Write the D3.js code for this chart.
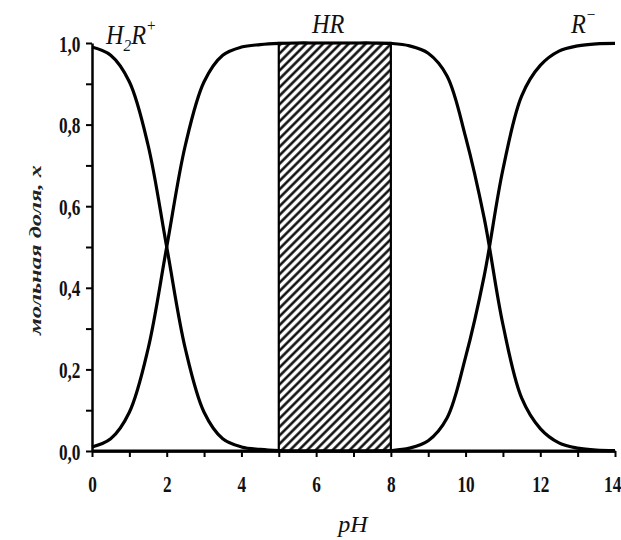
<!DOCTYPE html>
<html><head><meta charset="utf-8">
<script src="https://cdn.jsdelivr.net/npm/d3@7"></script>
<style>body{margin:0;background:#fff}</style></head>
<body>
<svg id="c" width="621" height="540"></svg>
<script>
// ---- data ----
const pH   = [0,0.5,1,1.5,2,2.5,3,3.5,4,4.5,5,5.5,6,6.5,7,7.5,8,8.5,9,9.5,10,10.5,11,11.5,12,12.5,13,13.5,14];
const h2r  = [0.99,0.97,0.905,0.75,0.50,0.25,0.095,0.03,0.01,0.004,0.001,0,0,0,0,0,0,0,0,0,0,0,0,0,0,0,0,0,0];
const hr   = [0.01,0.03,0.095,0.25,0.50,0.75,0.905,0.97,0.99,0.996,0.999,1,1,1,1,1,0.999,0.993,0.975,0.92,0.77,0.57,0.31,0.13,0.055,0.02,0.007,0.002,0.001];
const rm   = [0,0,0,0,0,0,0,0,0,0,0,0,0,0,0,0,0.001,0.007,0.025,0.08,0.23,0.43,0.69,0.87,0.945,0.98,0.993,0.998,0.999];
const band = [5, 8];        // hatched HR region (pH)
const bandTop = 1.0;
const xTicks = [0,1,2,3,4,5,6,7,8,9,10,11,12,13,14];
const xLabels = {0:"0",2:"2",4:"4",6:"6",8:"8",10:"10",12:"12",14:"14"};
const yTicks = [0,0.1,0.2,0.3,0.4,0.5,0.6,0.7,0.8,0.9,1.0];
const yLabels = {"0":"0,0","0.2":"0,2","0.4":"0,4","0.6":"0,6","0.8":"0,8","1":"1,0"};
const xTitle = "pH";
const yTitle = "мольная доля, х";

// ---- drawing ----
const svg = d3.select("#c");
const x = d3.scaleLinear().domain([0,14]).range([92,615]);
const y = d3.scaleLinear().domain([0,1]).range([451,43]);
const serif = "'Liberation Serif','DejaVu Serif',serif";

const defs = svg.append("defs");
const pat = defs.append("pattern").attr("id","hatch").attr("patternUnits","userSpaceOnUse")
  .attr("width",6).attr("height",6).attr("patternTransform","rotate(45)");
pat.append("line").attr("x1",1.5).attr("y1",0).attr("x2",1.5).attr("y2",6)
  .attr("stroke","#000").attr("stroke-width",2.4);

// hatched band
svg.append("rect")
  .attr("x",x(band[0])).attr("y",y(bandTop))
  .attr("width",x(band[1])-x(band[0])).attr("height",y(0)-y(bandTop))
  .attr("fill","url(#hatch)").attr("stroke","#000").attr("stroke-width",2.2);

// axes
const xAxis = d3.axisBottom(x).tickValues(xTicks).tickSize(6).tickSizeOuter(0)
  .tickFormat(d => xLabels[d] || "");
const gx = svg.append("g").attr("transform",`translate(0,${y(0)})`).call(xAxis);
gx.select(".domain").attr("stroke-width",2.5);
gx.selectAll(".tick line").attr("stroke-width",2);
gx.selectAll(".tick text").attr("y",41).attr("dy",0)
  .attr("font-family",serif).attr("font-weight","bold").attr("font-size",24)
  .attr("fill","#111").attr("transform","scale(0.72,1)");
// keep the last label inside the page edge
gx.selectAll(".tick text").filter(d => d === 14).attr("text-anchor","end").attr("x",8);

const yAxis = d3.axisLeft(y).tickValues(yTicks).tickSize(6).tickSizeOuter(0)
  .tickFormat(d => yLabels[String(+d.toFixed(1))] || "");
const gy = svg.append("g").attr("transform",`translate(${x(0)},0)`).call(yAxis);
gy.select(".domain").attr("stroke-width",2.5);
gy.selectAll(".tick line").attr("stroke-width",2);
gy.selectAll(".tick text").attr("x",-16).attr("dy","0.34em")
  .attr("font-family",serif).attr("font-weight","bold").attr("font-size",24)
  .attr("fill","#111").attr("transform","scale(0.72,1)");

// curves
const line = d3.line().x((d,i)=>x(pH[i])).y(d=>y(d)).curve(d3.curveCatmullRom.alpha(0.5));
[h2r, hr, rm].forEach(s => {
  svg.append("path").datum(s).attr("d",line)
    .attr("fill","none").attr("stroke","#000").attr("stroke-width",3.2)
    .attr("stroke-linejoin","round");
});

// series labels
function lbl(px, py, parts){
  const t = svg.append("text").attr("transform",`translate(${px},${py}) scale(0.9,1)`)
    .attr("font-family",serif).attr("font-style","italic").attr("font-size",27).attr("fill","#111");
  parts.forEach(p => {
    const ts = t.append("tspan").text(p.t);
    if (p.sub) ts.attr("font-size",17).attr("dy",7);
    if (p.sup) ts.attr("font-size",17).attr("dy",-13);
    if (p.back) ts.attr("dy",p.back);
  });
}
lbl(106,44,[{t:"H"},{t:"2",sub:true},{t:"R",back:-7},{t:"+",sup:true}]);
lbl(312,33,[{t:"HR"}]);
lbl(571,33,[{t:"R"},{t:"−",sup:true}]);

// axis titles
svg.append("text").attr("x",353).attr("y",532).attr("text-anchor","middle")
  .attr("font-family",serif).attr("font-style","italic").attr("font-size",24)
  .attr("fill","#111").text(xTitle);
svg.append("text").attr("transform","translate(41,250) rotate(-90)")
  .attr("text-anchor","middle").attr("font-family",serif).attr("font-style","italic")
  .attr("font-weight","bold").attr("font-size",17).attr("fill","#222")
  .attr("textLength",170).attr("lengthAdjust","spacingAndGlyphs").text(yTitle);
</script>
</body></html>
